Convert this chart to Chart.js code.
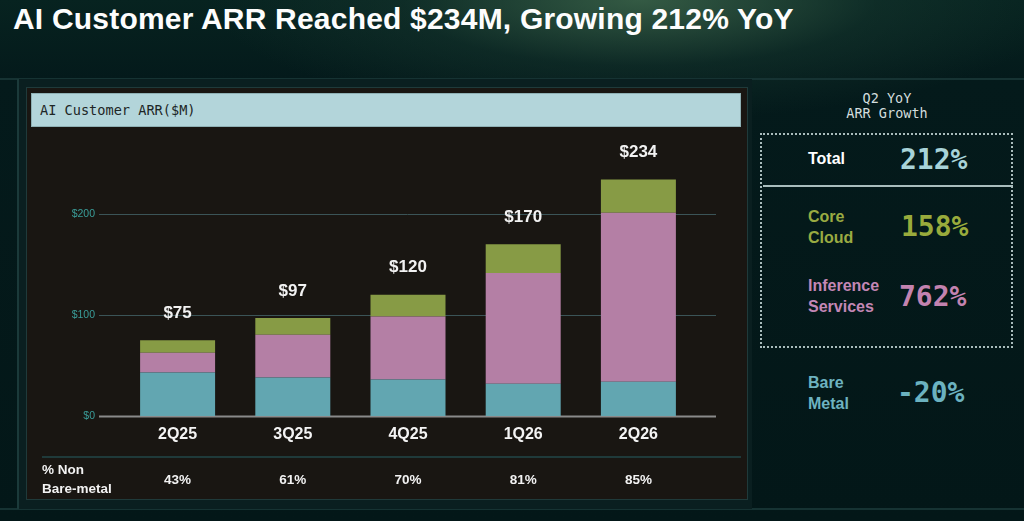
<!DOCTYPE html>
<html>
<head>
<meta charset="utf-8">
<script src="https://cdn.jsdelivr.net/npm/chart.js@4.4.1/dist/chart.umd.min.js"></script>
<style>
html, body { margin: 0; padding: 0; width: 1024px; height: 521px; overflow: hidden; }
body {
  position: relative;
  font-family: "Liberation Sans", Arial, sans-serif;
  background:
    radial-gradient(ellipse 430px 120px at 640px 0px, rgba(60, 100, 74, 0.85), rgba(26, 60, 50, 0.4) 55%, rgba(3, 23, 24, 0) 100%),
    linear-gradient(180deg, #072320 0%, #041a1b 15%, #031718 100%);
}
.abs { position: absolute; }
#title { left: 13px; top: 1px; font-size: 30px; line-height: 36px; font-weight: bold; letter-spacing: 0.2px; color: #fdfdfd; white-space: nowrap; }
.hline { left: 0; width: 1024px; height: 2px; background: #163333; }
#frame { left: 17px; top: 79px; width: 735px; height: 430px; border-left: 2px solid #1b3a3a; background: #0a1f20; box-sizing: border-box; }
#panel { left: 26px; top: 87px; width: 722px; height: 413px; background: #191612; border: 1px solid #1f3a3a; box-sizing: border-box; }
#header { left: 31px; top: 93px; width: 710px; height: 34px; background: #b3d5da; border: 1px solid #8fb0b4; box-sizing: border-box;
  font-family: "DejaVu Sans Mono", monospace; font-size: 13.6px; line-height: 32px; padding-left: 8px; color: #1d2626; }
#chartBox { left: 26px; top: 127px; width: 722px; height: 373px; }
#rowLabel { left: 42px; top: 460px; font-size: 13.5px; line-height: 19px; font-weight: bold; color: #f2f2f2; }
#growthHead { left: 820px; width: 134px; top: 91px; text-align: center; font-family: "DejaVu Sans Mono", monospace; font-size: 13.5px; line-height: 15px; color: #d3dede; }
#box { left: 760px; top: 133px; width: 253px; height: 215px; border: 2px dotted #a9bcbc; box-sizing: border-box; }
#boxLine { left: 763px; top: 185px; width: 250px; height: 2px; background: #a9bdbd; }
.lab { left: 808px; font-size: 16px; line-height: 21px; font-weight: bold; }
.val { font-family: "DejaVu Sans Mono", monospace; font-size: 28px; line-height: 32px; font-weight: bold; }
</style>
</head>
<body>
<div id="title" class="abs">AI Customer ARR Reached $234M, Growing 212% YoY</div>
<div class="abs hline" style="top:78px"></div>
<div class="abs hline" style="top:508px"></div>
<div id="frame" class="abs"></div>
<div id="panel" class="abs"></div>
<div id="header" class="abs">AI Customer ARR($M)</div>
<div id="chartBox" class="abs"><canvas id="arrChart"></canvas></div>
<div id="rowLabel" class="abs">% Non<br>Bare-metal</div>

<div id="growthHead" class="abs">Q2 YoY<br>ARR Growth</div>
<div id="box" class="abs"></div>
<div id="boxLine" class="abs"></div>
<div class="abs lab" style="top:148px;color:#ffffff">Total</div>
<div class="abs val" style="left:900px;top:144px;color:#a8d3d8">212%</div>
<div class="abs lab" style="top:206px;color:#9aab42">Core<br>Cloud</div>
<div class="abs val" style="left:901px;top:211px;color:#99ab3c">158%</div>
<div class="abs lab" style="top:275px;color:#c387b5">Inference<br>Services</div>
<div class="abs val" style="left:899px;top:281px;color:#c383b0">762%</div>
<div class="abs lab" style="top:372px;color:#6db2c0">Bare<br>Metal</div>
<div class="abs val" style="left:897px;top:377px;color:#6bb2c0">-20%</div>

<script>
// AI customer ARR ($M) por trimestre, apilado
const categories = ['2Q25', '3Q25', '4Q25', '1Q26', '2Q26'];
const bareMetal = [43, 38, 36, 32, 34];
const inferenceServices = [19.5, 42.5, 62.5, 109.5, 167];
const coreCloud = [12.5, 16.5, 21.5, 28.5, 33];
const totalArr = [75, 97, 120, 170, 234];
const nonBareMetalPct = [43, 61, 70, 81, 85];
const yTicks = [0, 100, 200];

const panelPlugin = {
  id: 'panel',
  beforeDatasetsDraw(chart) {
    const { ctx, chartArea, scales: { y } } = chart;
    ctx.save();
    yTicks.forEach(v => {
      const py = Math.round(y.getPixelForValue(v)) + 0.5;
      ctx.beginPath();
      ctx.strokeStyle = v === 0 ? '#8a8a8a' : '#3b5457';
      ctx.lineWidth = v === 0 ? 2 : 1;
      ctx.moveTo(chartArea.left - 21, py);
      ctx.lineTo(chartArea.right + 20, py);
      ctx.stroke();
    });
    ctx.restore();
  },
  afterDatasetsDraw(chart) {
    const { ctx, scales: { x } } = chart;
    const topMeta = chart.getDatasetMeta(chart.data.datasets.length - 1);
    ctx.save();
    ctx.textAlign = 'center';
    ctx.textBaseline = 'middle';
    ctx.fillStyle = '#f2f2f2';
    ctx.font = 'bold 17px "Liberation Sans", Arial, sans-serif';
    topMeta.data.forEach((bar, i) => {
      ctx.fillText('$' + totalArr[i], bar.x, bar.y - 27);
    });

    // linea separadora y fila de % non bare-metal
    ctx.beginPath();
    ctx.strokeStyle = '#1f3a3a';
    ctx.lineWidth = 2;
    ctx.moveTo(16, 330);
    ctx.lineTo(715, 330);
    ctx.stroke();

    ctx.font = 'bold 13.5px "Liberation Sans", Arial, sans-serif';
    nonBareMetalPct.forEach((p, i) => {
      ctx.fillText(p + '%', x.getPixelForValue(i), 353);
    });
    ctx.restore();
  }
};

const ctx = document.getElementById('arrChart').getContext('2d');
const arrChart = new Chart(ctx, {
  type: 'bar',
  data: {
    labels: categories,
    datasets: [
      { label: 'Bare Metal', data: bareMetal, backgroundColor: '#62a6b1' },
      { label: 'Inference Services', data: inferenceServices, backgroundColor: '#b47fa5' },
      { label: 'Core Cloud', data: coreCloud, backgroundColor: '#879b45' }
    ]
  },
  options: {
    responsive: true,
    maintainAspectRatio: false,
    animation: false,
    layout: { padding: { top: 20, right: 52, bottom: 46.8, left: 0 } },
    datasets: { bar: { categoryPercentage: 1, barPercentage: 0.651 } },
    plugins: { legend: { display: false }, tooltip: { enabled: false } },
    scales: {
      x: {
        stacked: true,
        grid: { display: false, drawTicks: false },
        border: { display: false },
        ticks: {
          color: '#f4f4f4',
          padding: 9,
          font: { family: '"Liberation Sans", Arial, sans-serif', size: 16, weight: 'bold', lineHeight: 1.2 }
        }
      },
      y: {
        stacked: true,
        min: 0,
        max: 255,
        grid: { display: false, drawTicks: false },
        border: { display: false },
        afterBuildTicks: scale => { scale.ticks = yTicks.map(v => ({ value: v })); },
        afterFit: scale => { scale.width = 94; },
        ticks: {
          color: '#3a9d99',
          padding: 25,
          font: { family: '"Liberation Sans", Arial, sans-serif', size: 10.5 },
          callback: v => '$' + v
        }
      }
    }
  },
  plugins: [panelPlugin]
});
</script>
</body>
</html>
